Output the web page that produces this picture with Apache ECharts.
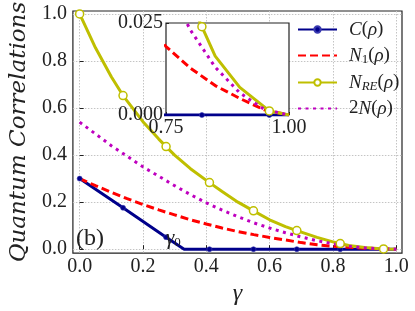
<!DOCTYPE html>
<html><head><meta charset="utf-8">
<script src="https://cdn.jsdelivr.net/npm/echarts@6/dist/echarts.min.js"></script>
<style>html,body{margin:0;padding:0;background:#fff}#c{width:415px;height:311px}</style>
</head><body><div id="c"></div>
<script>
const xTicks = [0, 0.2, 0.4, 0.6, 0.8, 1.0];
const yTicks = [0, 0.2, 0.4, 0.6, 0.8, 1.0];
const insetXTicks = [0.75, 1.0];
const insetYTicks = [0, 0.025];

const gammaC = [0, 0.137, 0.273, 0.33, 0.41, 0.549, 0.686, 0.823, 0.96, 1.0];
const valC   = [0.30, 0.176, 0.051, 0, 0, 0, 0, 0, 0, 0];
const markC  = [1, 1, 1, 0, 1, 1, 1, 1, 1, 0];

const gammaN1 = [0, 0.05, 0.1, 0.15, 0.2, 0.25, 0.3, 0.35, 0.4, 0.45, 0.5, 0.55, 0.6, 0.65, 0.7, 0.75, 0.8, 0.85, 0.9, 0.95, 1.0];
const valN1   = [0.30, 0.270, 0.242, 0.215, 0.190, 0.167, 0.146, 0.125, 0.107, 0.090, 0.075, 0.062, 0.050, 0.039, 0.028, 0.0186, 0.0127, 0.0080, 0.0045, 0.0014, 0];

const gammaRE = [0, 0.05, 0.1, 0.137, 0.2, 0.25, 0.273, 0.3, 0.35, 0.41, 0.45, 0.5, 0.549, 0.6, 0.65, 0.686, 0.75, 0.8, 0.823, 0.85, 0.9, 0.96, 1.0];
const valRE   = [1.0, 0.856, 0.733, 0.653, 0.542, 0.468, 0.436, 0.400, 0.342, 0.283, 0.245, 0.200, 0.163, 0.125, 0.096, 0.079, 0.050, 0.031, 0.024, 0.016, 0.0075, 0.0011, 0];
const markRE  = [1, 0, 0, 1, 0, 0, 1, 0, 0, 1, 0, 0, 1, 0, 0, 1, 0, 0, 1, 0, 0, 1, 0];

const gamma2N = [0, 0.05, 0.1, 0.15, 0.2, 0.25, 0.3, 0.35, 0.4, 0.45, 0.5, 0.55, 0.6, 0.65, 0.7, 0.75, 0.8, 0.85, 0.9, 0.95, 1.0];
const val2N   = [0.54, 0.49, 0.44, 0.395, 0.35, 0.31, 0.27, 0.232, 0.197, 0.166, 0.138, 0.112, 0.090, 0.070, 0.052, 0.036, 0.023, 0.013, 0.006, 0.0015, 0];

const seriesNames = ['C(ρ)', 'N1(ρ)', 'NRE(ρ)', '2N(ρ)'];

const SERIF = 'Liberation Serif';
const chart = echarts.init(document.getElementById('c'), null, {renderer: 'canvas'});

function pts(xs, ys, marks) {
  return xs.map((x, i) => {
    const it = {value: [x, ys[i]]};
    if (marks && !marks[i]) it.symbol = 'none';
    return it;
  });
}

function makeSeries(idx, z) {
  return [
    {
      name: seriesNames[0], type: 'line', xAxisIndex: idx, yAxisIndex: idx, z: z,
      data: pts(gammaC, valC, markC), symbol: 'circle', symbolSize: 5, showSymbol: true,
      itemStyle: {color: '#00008b', borderColor: '#3a3ab0', borderWidth: 0.6},
      lineStyle: {color: '#00008b', width: 3}, clip: true, animation: false
    },
    {
      name: seriesNames[1], type: 'line', xAxisIndex: idx, yAxisIndex: idx, z: z,
      data: pts(gammaN1, valN1), symbol: 'none',
      itemStyle: {color: '#ff0000'},
      lineStyle: {color: '#ff0000', width: 3, type: [8, 4]}, clip: true, animation: false
    },
    {
      name: seriesNames[2], type: 'line', xAxisIndex: idx, yAxisIndex: idx, z: z,
      data: pts(gammaRE, valRE, markRE), symbol: 'circle', symbolSize: 8, showSymbol: true,
      itemStyle: {color: '#ffffff', borderColor: '#bfbf00', borderWidth: 1.5},
      lineStyle: {color: '#bfbf00', width: 3}, clip: true, animation: false
    },
    {
      name: seriesNames[3], type: 'line', xAxisIndex: idx, yAxisIndex: idx, z: z,
      data: pts(gamma2N, val2N), symbol: 'none',
      itemStyle: {color: '#bf00bf'},
      lineStyle: {color: '#bf00bf', width: 3, type: [3, 4.5]}, clip: true, animation: false
    }
  ];
}

const tickLabel = {fontFamily: SERIF, fontSize: 20, color: '#222'};
const gridLine = {show: true, lineStyle: {color: '#c4c4c4', type: [1.5, 1.5], width: 1}};

const option = {
  backgroundColor: '#fff',
  animation: false,
  grid: [
    {left: 60, top: 11, width: 342, height: 248, show: true, borderColor: '#222', borderWidth: 1.2, backgroundColor: 'transparent', z: 0},
    {left: 166, top: 23, width: 123, height: 92, show: true, borderColor: '#222', borderWidth: 1.2, backgroundColor: '#ffffff', z: 5}
  ],
  xAxis: [
    {
      type: 'value', gridIndex: 0, min: -0.0213, max: 1.0182,
      name: 'γ', nameLocation: 'middle', nameGap: 28,
      nameTextStyle: {fontFamily: SERIF, fontStyle: 'italic', fontSize: 24, color: '#222'},
      axisLine: {show: false},
      axisTick: {show: true, inside: true, length: 4, customValues: xTicks, lineStyle: {color: '#222'}},
      axisLabel: {customValues: xTicks, margin: 4, formatter: v => v.toFixed(1), ...tickLabel},
      splitLine: {...gridLine, customValues: xTicks}
    },
    {
      type: 'value', gridIndex: 1, min: 0.75, max: 1.0, interval: 0.25,
      axisLine: {show: false},
      axisTick: {show: true, inside: true, length: 3, lineStyle: {color: '#222'}},
      axisLabel: {margin: 3, formatter: v => v.toFixed(2), ...tickLabel},
      splitLine: {show: false}, z: 6
    }
  ],
  yAxis: [
    {
      type: 'value', gridIndex: 0, min: -0.0166, max: 1.0124,
      name: 'Quantum Correlations', nameLocation: 'middle', nameGap: 34,
      nameTextStyle: {fontFamily: 'DejaVu Serif', fontStyle: 'italic', fontSize: 23, color: '#222'},
      axisLine: {show: false},
      axisTick: {show: true, inside: true, length: 4, customValues: yTicks, lineStyle: {color: '#222'}},
      axisLabel: {customValues: yTicks, margin: 6, formatter: v => v.toFixed(1), ...tickLabel},
      splitLine: {...gridLine, customValues: yTicks}
    },
    {
      type: 'value', gridIndex: 1, min: 0, max: 0.025, interval: 0.025,
      axisLine: {show: false},
      axisTick: {show: true, inside: true, length: 3, lineStyle: {color: '#222'}},
      axisLabel: {margin: 3, formatter: v => v.toFixed(3), ...tickLabel},
      splitLine: {show: false}, z: 6
    }
  ],
  legend: {
    data: [
      {name: seriesNames[0]},
      {name: seriesNames[1], itemStyle: {opacity: 0}},
      {name: seriesNames[2]},
      {name: seriesNames[3], itemStyle: {opacity: 0}}
    ],
    orient: 'vertical', left: 292, top: 15,
    itemWidth: 39, itemHeight: 8, itemGap: 6,
    backgroundColor: 'transparent', z: 10,
    formatter: function (n) {
      if (n === 'C(ρ)') return '{i|C}{n|(}{i|ρ}{n|)}';
      if (n === 'N1(ρ)') return '{i|N}{s|1}{n|(}{i|ρ}{n|)}';
      if (n === 'NRE(ρ)') return '{i|N}{si|RE}{n|(}{i|ρ}{n|)}';
      return '{n|2}{i|N}{n|(}{i|ρ}{n|)}';
    },
    textStyle: {
      padding: [0, 0, 0, 7],
      rich: {
        i: {fontFamily: SERIF, fontStyle: 'italic', fontSize: 19, color: '#222', lineHeight: 20},
        n: {fontFamily: SERIF, fontSize: 19, color: '#222', lineHeight: 20},
        s: {fontFamily: SERIF, fontSize: 13, color: '#222', padding: [8, 0, 0, 0], lineHeight: 20},
        si: {fontFamily: SERIF, fontStyle: 'italic', fontSize: 13, color: '#222', padding: [8, 0, 0, 0], lineHeight: 20}
      }
    }
  },
  graphic: [
    {type: 'text', left: 76, top: 227, z: 20,
      style: {text: '(b)', font: '24px "Liberation Serif"', fill: '#222'}},
    {type: 'text', left: 166, top: 228, z: 20,
      style: {text: '{g|γ}{s|0}', rich: {
        g: {font: 'italic 21px "Liberation Serif"', fill: '#222'},
        s: {font: '13px "Liberation Serif"', fill: '#222', padding: [8, 0, 0, 0]}
      }}}
  ],
  series: [...makeSeries(0, 3), ...makeSeries(1, 7)]
};
chart.setOption(option);
</script>
</body></html>
